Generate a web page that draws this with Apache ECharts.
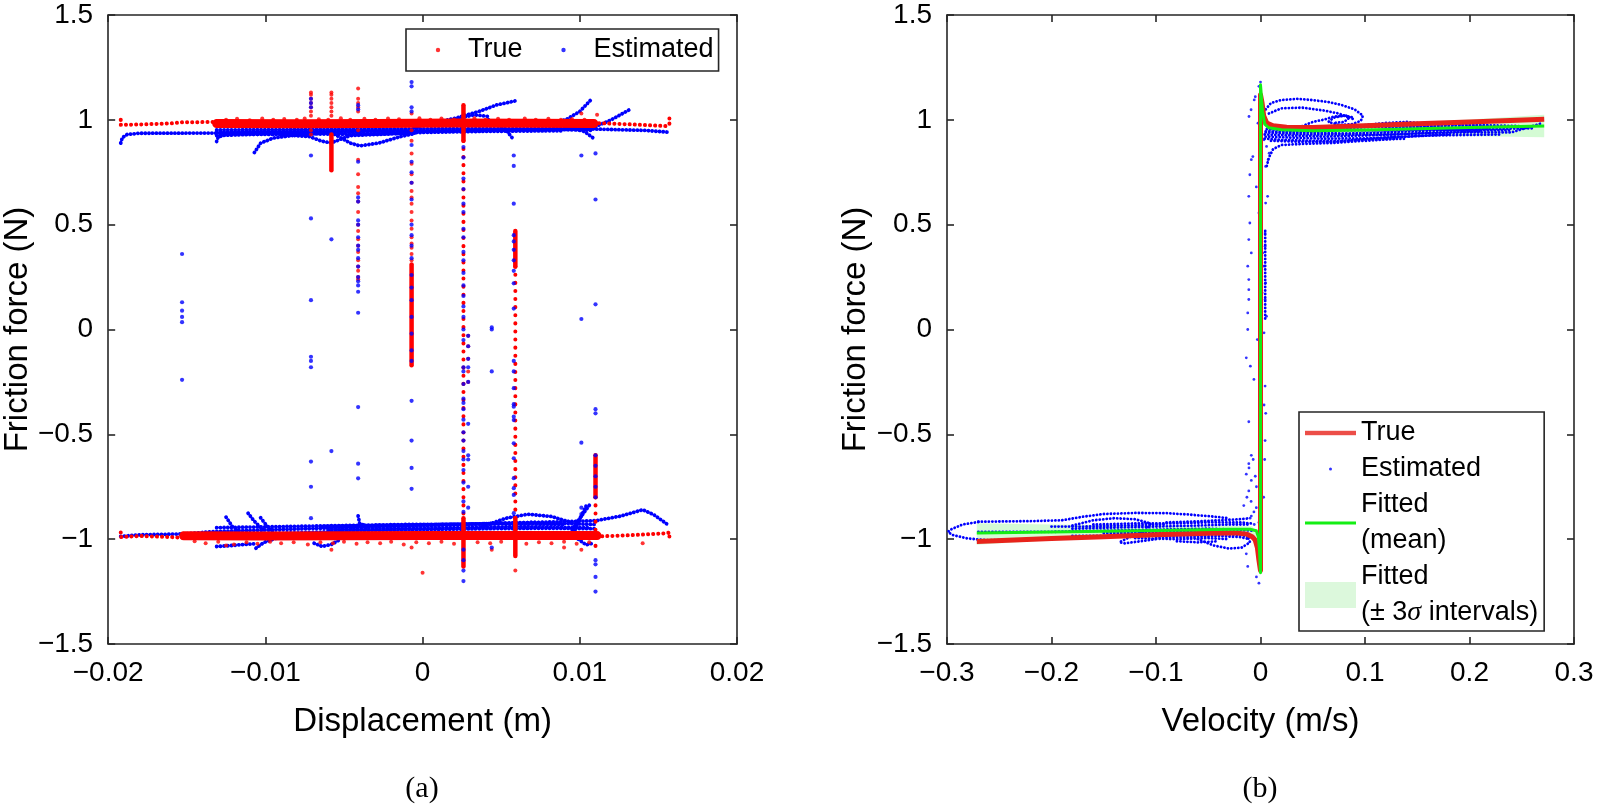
<!DOCTYPE html>
<html>
<head>
<meta charset="utf-8">
<script src="https://cdn.jsdelivr.net/npm/echarts@6/dist/echarts.min.js"></script>
<style>
  html, body { margin: 0; background: #fff; }
  #chart { width: 1600px; height: 808px; }
</style>
</head>
<body>
<div id="chart"></div>
<script>
// axis ranges [min, max, interval]
const forceAxis = [-1.5, 1.5, 0.5]
const dispAxis = [-0.02, 0.02, 0.01]
const velAxis = [-0.3, 0.3, 0.1]

// ---------- (a) friction force vs displacement ----------
// dense "True" bands
const trueBandsA = [
  [[-0.0131, 0.982], [-0.008, 0.981], [-0.003, 0.982], [0.002, 0.985], [0.007, 0.984], [0.0109, 0.982]],
  [[-0.0152, -0.984], [-0.01, -0.985], [-0.005, -0.984], [0, -0.983], [0.005, -0.982], [0.0111, -0.983]]
]
// sparse "True" stretches at both ends
const trueSparseA = [
  [[-0.0192, 1.0], [-0.0192, 0.976], [-0.018, 0.978], [-0.016, 0.983], [-0.0153, 0.988], [-0.0131, 0.99], [-0.0131, 0.975]],
  [[0.0109, 0.985], [0.013, 0.979], [0.0155, 0.97], [0.0157, 0.98], [0.0157, 1.02]],
  [[-0.0192, -0.968], [-0.0192, -0.99], [-0.018, -0.985], [-0.016, -0.99], [-0.0152, -0.993], [-0.0152, -0.968]],
  [[0.0111, -0.987], [0.013, -0.982], [0.0155, -0.972], [0.0157, -0.968], [0.0157, -0.995]]
]
// vertical "True" runs: [x, yFrom, yTo, dotted]
const trueColumnsA = [
  [-0.0058, 0.93, 0.76, 0],
  [-0.0007, 0.31, -0.17, 0],
  [0.0026, 1.07, 0.9, 0],
  [0.0026, 0.9, -0.9, 1],
  [0.0026, -0.9, -1.13, 0],
  [0.0059, 0.47, 0.3, 0],
  [0.0059, 0.3, -0.9, 1],
  [0.0059, -0.9, -1.08, 0],
  [0.011, -0.6, -0.8, 0],
  [0.011, -0.8, -1.05, 1]
]
const trueColumnDotsA = [
  [-0.0071, [1.13, 1.12, 1.1, 1.08, 1.06, 1.04, 1.02, 0.95, 0.93]],
  [-0.0058, [1.13, 1.12, 1.1, 1.08, 1.06, 1.04, 1.02]],
  [-0.0041, [1.15, 1.1, 1.08, 1.06, 1.04, 0.95, 0.81, 0.74, 0.68, 0.65, 0.61, 0.56, 0.5, 0.47, 0.43, 0.4, 0.37, 0.33, 0.3, 0.28, 0.25, 0.24]],
  [-0.0007, [1.03, 0.95, 0.9, 0.84, 0.79, 0.74, 0.7, 0.66, 0.63, 0.6, 0.56, 0.52, 0.48, 0.44, 0.41, 0.39, 0.36, 0.33]],
  [0.0029, [-0.03, -0.08, -0.14, -0.2, -0.25]]
]
const trueOutliersA = [
  [-0.0125, -1.03], [-0.0058, -1.05], [0.0, -1.16], [-0.0007, -1.04], [0.0044, -1.05],
  [0.0059, -1.15], [0.009, -1.04], [0.0101, -1.05], [0.014, -1.02], [0.0101, 1.03], [0.0111, 1.024]
]
const trueTeethA = [
  [-0.0125, 1.0], [-0.0118, 1.005], [-0.011, 0.998], [-0.0102, 1.006], [-0.0095, 1.0], [-0.0088, 1.004],
  [-0.008, 1.0], [-0.0075, 1.006], [-0.0066, 1.003], [-0.006, 1.0], [-0.0052, 1.007], [-0.0046, 1.0],
  [-0.0037, 1.005], [-0.003, 1.0], [-0.0022, 1.006], [-0.0015, 1.003], [-0.0002, 1.008], [0.0005, 1.0],
  [0.0012, 1.006], [0.002, 1.002], [0.0033, 1.007], [0.004, 1.0], [0.0048, 1.005], [0.0055, 1.0],
  [0.0065, 1.006], [0.0072, 1.0], [0.008, 1.005], [0.0088, 1.0], [0.0095, 1.004], [0.0103, 1.0],
  [-0.0145, -1.01], [-0.0138, -1.02], [-0.013, -1.012], [-0.012, -1.025], [-0.0112, -1.015], [-0.0105, -1.022],
  [-0.0097, -1.012], [-0.009, -1.02], [-0.0082, -1.015], [-0.0073, -1.025], [-0.0065, -1.015], [-0.0057, -1.02],
  [-0.005, -1.012], [-0.0042, -1.022], [-0.0035, -1.015], [-0.0027, -1.02], [-0.002, -1.012], [-0.0012, -1.025],
  [-0.0004, -1.015], [0.0004, -1.02], [0.0012, -1.012], [0.002, -1.022], [0.0035, -1.015], [0.0043, -1.02],
  [0.005, -1.012], [0.0066, -1.022], [0.0074, -1.015], [0.0082, -1.02], [0.009, -1.012], [0.0098, -1.022], [0.0106, -1.015]
]
// "Estimated" trajectories
const estTracksA = [
  [[-0.0192, 0.889], [-0.0191, 0.915], [-0.0188, 0.93], [-0.018, 0.936], [-0.0131, 0.937], [-0.0064, 0.94], [-0.0005, 0.943], [0.0062, 0.952], [0.011, 0.956], [0.014, 0.95], [0.0157, 0.941]],
  [[-0.0131, 0.897], [-0.013, 0.918], [-0.0125, 0.93], [-0.0116, 0.932], [-0.009, 0.93], [-0.0072, 0.92], [-0.0064, 0.898], [-0.0058, 0.89], [-0.0053, 0.905], [-0.0046, 0.925], [-0.0005, 0.937]],
  [[-0.0107, 0.844], [-0.0103, 0.889], [-0.0095, 0.913], [-0.008, 0.928], [-0.0058, 0.94]],
  [[-0.0058, 0.94], [-0.0046, 0.889], [-0.004, 0.876], [-0.0028, 0.889], [-0.0014, 0.92], [-0.0005, 0.935]],
  [[-0.0005, 0.965], [0.0021, 1.008], [0.0036, 1.04], [0.0047, 1.071], [0.006, 1.092]],
  [[0.0018, 1.0], [0.0033, 1.024], [0.0042, 1.016]],
  [[0.0042, 1.0], [0.0053, 0.952], [0.0058, 0.905]],
  [[0.0076, 0.976], [0.0091, 1.0], [0.01, 1.04], [0.0107, 1.095]],
  [[0.0091, 0.968], [0.0103, 0.944], [0.011, 0.905]],
  [[0.011, 0.968], [0.012, 1.0], [0.0132, 1.05]],
  [[-0.0131, 0.952], [-0.008, 0.954], [-0.003, 0.956], [0.002, 0.958], [0.007, 0.958], [0.011, 0.96]],
  [[-0.0131, 0.925], [-0.009, 0.935], [-0.004, 0.93], [0, 0.94], [0.004, 0.945], [0.009, 0.948]],
  [[-0.0131, 0.94], [-0.01, 0.945], [-0.006, 0.948], [-0.002, 0.95], [0.003, 0.95], [0.008, 0.955], [0.0109, 0.95]],
  [[-0.0192, -0.987], [-0.018, -0.979], [-0.0152, -0.975], [-0.0131, -0.963], [-0.0064, -0.948], [-0.0005, -0.937], [0.0053, -0.924], [0.011, -0.912], [0.0126, -0.89], [0.014, -0.86], [0.0147, -0.883], [0.0154, -0.92], [0.0157, -0.937]],
  [[-0.0131, -1.035], [-0.0121, -1.03], [-0.0107, -1.022]],
  [[-0.0125, -0.895], [-0.0121, -0.94], [-0.0116, -0.963]],
  [[-0.0111, -0.876], [-0.0107, -0.915], [-0.0101, -0.958]],
  [[-0.0103, -0.898], [-0.0099, -0.937], [-0.0095, -0.971]],
  [[-0.0106, -1.043], [-0.0101, -1.016], [-0.0093, -0.995]],
  [[-0.0069, -1.019], [-0.0064, -1.035], [-0.0058, -1.025], [-0.0052, -1.0]],
  [[-0.0041, -0.889], [-0.004, -0.925], [-0.0035, -0.94]],
  [[0.0038, -0.94], [0.0053, -0.9], [0.0067, -0.881], [0.0082, -0.892], [0.0096, -0.924]],
  [[0.0094, -0.97], [0.01, -0.9], [0.0107, -0.829]],
  [[0.0097, -0.955], [0.0101, -0.89], [0.0104, -0.842]],
  [[0.0099, -1.0], [0.0104, -1.027], [0.0108, -1.02]],
  [[-0.0131, -0.975], [-0.008, -0.97], [-0.004, -0.96], [0, -0.955], [0.004, -0.95], [0.008, -0.948], [0.011, -0.95]],
  [[-0.0064, -0.94], [-0.003, -0.935], [0.001, -0.93], [0.005, -0.925], [0.009, -0.93]],
  [[-0.0131, -0.945], [-0.009, -0.94], [-0.005, -0.935], [-0.001, -0.93], [0.003, -0.928], [0.007, -0.92], [0.011, -0.93]],
  [[-0.006, -0.955], [-0.002, -0.95], [0.002, -0.945], [0.006, -0.94], [0.0105, -0.945]]
]
const estColumnDotsA = [
  [-0.0153, [0.36, 0.13, 0.09, 0.06, 0.035, -0.24]],
  [-0.0071, [1.1, 1.08, 1.06, 0.83, 0.53, 0.14, -0.13, -0.15, -0.18, -0.63, -0.75, -0.9]],
  [-0.0058, [0.43, -0.58]],
  [-0.0041, [1.07, 1.05, 0.8, 0.63, 0.61, 0.52, 0.5, 0.44, 0.4, 0.38, 0.34, 0.3, 0.25, 0.23, 0.21, 0.18, 0.08, -0.37, -0.64, -0.71]],
  [-0.0007, [1.18, 1.16, 1.06, 1.04, 0.88, 0.8, 0.75, 0.7, 0.62, 0.5, 0.45, 0.4, 0.34, 0.26, 0.2, 0.14, 0.06, -0.02, -0.1, -0.15, -0.34, -0.53, -0.66, -0.76]],
  [0.0026, [0.87, 0.82, 0.72, 0.67, 0.6, 0.56, 0.48, 0.44, 0.37, 0.33, 0.27, 0.21, 0.16, 0.11, 0.06, 0.0, -0.05, -0.18, -0.2, -0.26, -0.33, -0.35, -0.38, -0.43, -0.49, -0.53, -0.58, -0.62, -0.67, -0.73, -0.82, -0.87, -1.05, -1.1, -1.15, -1.2]],
  [0.0029, [-0.03, -0.08, -0.14, -0.18, -0.25, -0.45, -0.6, -0.62, -0.75, -0.85]],
  [0.0044, [0.01, 0.0, -0.2, -1.04]],
  [0.0058, [0.83, 0.78, 0.6, 0.45, 0.42, 0.38, 0.33, 0.28, 0.22, 0.1, -0.15, -0.2, -0.28, -0.356, -0.368, -0.416, -0.432, -0.543, -0.614, -0.709, -0.757, -0.789, -0.876]],
  [0.0101, [0.83, 0.05, -0.54, -0.85, -0.88]],
  [0.011, [0.84, 0.62, 0.12, -0.38, -0.4, -0.6, -0.65, -0.7, -0.75, -0.8, -1.1, -1.12, -1.18, -1.25]]
]

// ---------- (b) friction force vs velocity ----------
const trueVelB = [
  [-0.2715, -1.011], [-0.2, -0.997], [-0.15, -0.988], [-0.1, -0.979], [-0.05, -0.972], [-0.025, -0.97],
  [-0.013, -0.976], [-0.008, -0.988], [-0.005, -1.005], [-0.003, -1.04], [-0.0015, -1.1], [0, -1.15],
  [0, 1.12], [0.0015, 1.08], [0.003, 1.02], [0.006, 0.985], [0.012, 0.972], [0.025, 0.965], [0.05, 0.964],
  [0.1, 0.972], [0.15, 0.981], [0.2, 0.99], [0.2715, 1.003]
]
const fitMeanB = [
  [-0.2715, -0.971], [-0.2, -0.966], [-0.1, -0.959], [-0.03, -0.953], [-0.01, -0.953], [-0.004, -0.96],
  [-0.002, -0.99], [-0.001, -1.05], [0, -1.16], [0, 1.167], [0.001, 1.1], [0.002, 1.04], [0.004, 0.98],
  [0.008, 0.962], [0.02, 0.953], [0.05, 0.948], [0.1, 0.952], [0.15, 0.957], [0.2, 0.963], [0.2715, 0.971]
]
const bandPosHi = [[0.001, 1.19], [0.003, 1.06], [0.006, 0.99], [0.02, 0.975], [0.06, 0.975], [0.1, 0.982], [0.15, 0.99], [0.2, 1.002], [0.2715, 1.024]]
const bandPosLo = [[0.001, 1.14], [0.003, 1.03], [0.006, 0.955], [0.02, 0.93], [0.06, 0.925], [0.1, 0.925], [0.15, 0.925], [0.2, 0.922], [0.2715, 0.917]]
const bandNegHi = [[-0.2715, -0.924], [-0.2, -0.93], [-0.1, -0.935], [-0.03, -0.935], [-0.008, -0.94], [-0.003, -0.97], [-0.001, -1.1]]
const bandNegLo = [[-0.2715, -1.027], [-0.2, -1.005], [-0.1, -0.985], [-0.03, -0.975], [-0.008, -0.98], [-0.003, -1.02], [-0.001, -1.19]]
const estTracksB = [
  [[0.004, 0.91], [0.02, 0.905], [0.05, 0.9], [0.08, 0.9], [0.12, 0.915], [0.16, 0.925], [0.2, 0.928], [0.23, 0.93]],
  [[0.004, 0.93], [0.03, 0.925], [0.06, 0.92], [0.1, 0.925], [0.15, 0.935], [0.2, 0.94], [0.24, 0.94], [0.27, 0.985]],
  [[0.005, 0.945], [0.04, 0.94], [0.08, 0.935], [0.12, 0.94], [0.17, 0.95], [0.21, 0.955], [0.26, 0.96]],
  [[0.006, 0.955], [0.03, 0.95], [0.06, 0.955], [0.1, 0.965], [0.14, 0.97], [0.18, 0.965], [0.22, 0.96]],
  [[0.005, 0.92], [0.03, 0.915], [0.06, 0.91], [0.1, 0.912], [0.14, 0.92], [0.18, 0.93]],
  [[0.005, 0.94], [0.025, 0.935], [0.05, 0.93], [0.09, 0.93], [0.13, 0.93], [0.17, 0.94], [0.21, 0.945]],
  [[0.01, 0.96], [0.04, 0.958], [0.08, 0.95], [0.12, 0.95], [0.16, 0.955], [0.2, 0.95], [0.24, 0.95]],
  [[0.01, 0.9], [0.04, 0.895], [0.07, 0.895], [0.1, 0.905], [0.14, 0.91]],
  [[0.12, 0.96], [0.15, 0.965], [0.18, 0.975], [0.21, 0.975], [0.25, 0.97]],
  [[0.006, 0.78], [0.008, 0.82], [0.012, 0.86], [0.02, 0.88], [0.04, 0.885], [0.07, 0.89], [0.1, 0.9], [0.13, 0.91]],
  [[0.005, 1.05], [0.01, 1.08], [0.02, 1.095], [0.035, 1.1], [0.05, 1.094], [0.065, 1.085], [0.078, 1.07], [0.09, 1.05], [0.098, 1.02], [0.096, 0.995], [0.088, 0.98], [0.075, 0.975], [0.065, 0.99], [0.07, 1.01], [0.08, 1.02], [0.09, 1.01]],
  [[0.008, 1.03], [0.02, 1.055], [0.04, 1.058], [0.06, 1.045], [0.075, 1.03], [0.085, 1.01], [0.08, 0.99], [0.07, 0.985]],
  [[0.04, 0.97], [0.05, 0.99], [0.06, 1.0], [0.07, 1.015], [0.082, 1.02], [0.09, 1.0]],
  [[0.1, 0.975], [0.12, 0.985], [0.14, 0.99], [0.16, 0.98], [0.19, 0.975], [0.22, 0.97]],
  [[0.0045, 0.47], [0.0045, 0.05]],
  [[-0.27, -0.918], [-0.285, -0.93], [-0.297, -0.955], [-0.299, -0.965], [-0.295, -0.98], [-0.28, -0.997], [-0.26, -1.005], [-0.24, -1.004], [-0.2, -0.995]],
  [[-0.27, -0.917], [-0.22, -0.914], [-0.19, -0.91], [-0.17, -0.893], [-0.15, -0.88], [-0.12, -0.875], [-0.09, -0.876], [-0.07, -0.882], [-0.05, -0.89], [-0.03, -0.9]],
  [[-0.18, -0.935], [-0.16, -0.91], [-0.14, -0.9], [-0.12, -0.905], [-0.105, -0.925], [-0.11, -0.96], [-0.125, -0.99], [-0.135, -1.015], [-0.13, -1.02], [-0.115, -1.01], [-0.1, -1.0]],
  [[-0.18, -0.95], [-0.14, -0.945], [-0.1, -0.94], [-0.06, -0.935], [-0.03, -0.93], [-0.01, -0.93]],
  [[-0.27, -0.965], [-0.2, -0.965], [-0.15, -0.96], [-0.1, -0.955], [-0.05, -0.95], [-0.02, -0.955], [-0.006, -0.96]],
  [[-0.18, -0.985], [-0.13, -0.985], [-0.09, -0.98], [-0.05, -0.975], [-0.02, -0.98], [-0.008, -0.99]],
  [[-0.12, -0.995], [-0.08, -1.0], [-0.05, -0.995], [-0.03, -1.0]],
  [[-0.16, -0.93], [-0.12, -0.925], [-0.08, -0.925], [-0.05, -0.92], [-0.02, -0.92], [-0.008, -0.925]],
  [[-0.15, -0.97], [-0.11, -0.97], [-0.07, -0.965], [-0.04, -0.965], [-0.015, -0.97]],
  [[-0.1, -0.99], [-0.07, -0.99], [-0.04, -0.985], [-0.02, -0.99], [-0.01, -1.0]],
  [[-0.2, -0.94], [-0.17, -0.94], [-0.13, -0.935], [-0.09, -0.93]],
  [[-0.08, -1.01], [-0.06, -1.015], [-0.04, -1.01]],
  [[-0.06, -1.0], [-0.045, -1.03], [-0.03, -1.045], [-0.018, -1.04], [-0.01, -1.015], [-0.012, -0.99]],
  [[-0.09, -0.92], [-0.06, -0.915], [-0.04, -0.91], [-0.02, -0.905], [-0.01, -0.9]]
]
const estDotsB = [
  [0, 1.18], [-0.0015, 1.16], [-0.005, 1.11], [-0.006, 1.095], [-0.009, 1.048], [-0.011, 1.016], [-0.0024, 0.984],
  [0.0034, 0.905], [0.0058, 0.873], [0.0083, 0.841], [0.0073, 0.81], [0.0049, 0.778], [-0.0073, 0.825], [-0.0088, 0.81],
  [-0.0102, 0.738], [-0.0112, 0.635], [-0.0102, 0.508], [-0.0112, 0.429], [-0.0088, 0.365], [-0.0122, 0.302],
  [-0.0112, 0.238], [-0.0112, 0.19], [-0.0112, 0.143], [-0.0122, 0.079], [-0.0122, 0.0], [-0.0136, -0.135],
  [-0.0097, -0.175], [-0.0063, -0.238], [0.0044, 0.46], [0.0044, 0.397], [0.0034, 0.302], [0.0049, 0.222],
  [0.0044, 0.143], [0.0058, 0.063], [0.0068, 0.635], [0.0049, 0.603], [0.0034, -0.016], [0.001, -0.143],
  [0.0044, -0.27], [-0.004, 0.68], [-0.0015, 0.556], [0.002, 0.365], [0.0015, 0.175], [-0.003, -0.048],
  [0.001, -0.273], [0.0034, -0.36], [0, -0.43], [-0.0112, -0.44], [0.0044, -0.53], [-0.0088, -0.6],
  [-0.0112, -0.64], [-0.0136, -0.69], [-0.0088, -0.72], [-0.0039, -0.75], [-0.0112, -0.77], [-0.016, -0.84],
  [-0.0063, -0.87], [-0.0088, -0.89], [-0.0015, -0.92], [-0.0136, -1.07], [-0.0122, -1.13], [-0.0039, -1.18],
  [-0.0015, -1.21], [-0.007, -0.62], [-0.011, -0.66], [-0.005, -0.7], [-0.013, -0.8], [-0.009, -0.82],
  [-0.004, -0.85], [-0.01, -0.9], [-0.006, -0.93], [0.004, -0.62], [0.005, -0.4], [0.003, -0.8]
]

const legendNamesB = ['True', 'Estimated', 'Fitted\n(mean)', 'Fitted\n(± 3σ intervals)']

const RED = '#ff0000'
const BLUE = '#0000ff'
const TRUE_LINE = '#e8231b'
const GREEN = '#14ee14'
const BAND = 'rgba(0, 230, 0, 0.17)'
const INK = '#262626'
const SANS = '"Liberation Sans", Arial, Helvetica, sans-serif'
const SERIF = '"Liberation Serif", "Times New Roman", serif'

// grid 0 uses x/y axes 0 (bottom/left) and 1 (top/right); grid 1 uses 2 and 3
const AX = [0, 2]

function svgIcon(w, h, body) {
  return 'image://data:image/svg+xml;charset=utf-8,' + encodeURIComponent(
    '<svg xmlns="http://www.w3.org/2000/svg" width="' + w + '" height="' + h + '" viewBox="0 0 ' + w + ' ' + h + '">' + body + '</svg>')
}

function lineSeries(tracks, g, color, width, gap, z) {
  return tracks.map(pts => ({
    type: 'line', xAxisIndex: AX[g], yAxisIndex: AX[g], data: pts,
    symbol: 'none', silent: true, z: z || 2, animation: false,
    itemStyle: { color },
    lineStyle: { color, width, type: gap ? [0.1, gap] : 'solid', cap: 'round', join: 'round' }
  }))
}

function flattenColumns(cols) {
  const out = []
  cols.forEach(([x, ys]) => ys.forEach(y => out.push([x, y])))
  return out
}

const columnLinesA = trueColumnsA.map(c => ({ pts: [[c[0], c[1]], [c[0], c[2]]], dotted: c[3] }))

// MATLAB-style labels with a real minus sign
const fmt = d => v => {
  const r = Math.round(v * d) / d
  return r < 0 ? '\u2212' + String(-r) : String(r)
}

function axisPair(g, range, f) {
  const common = {
    type: 'value', gridIndex: g, min: range[0], max: range[1], interval: range[2],
    splitLine: { show: false },
    axisLine: { show: true, onZero: false, lineStyle: { color: INK, width: 1.6 } },
    axisTick: { show: true, inside: true, length: 7, lineStyle: { color: INK, width: 1.6 } }
  }
  return [
    Object.assign({}, common, {
      axisLabel: { show: true, fontFamily: SANS, fontSize: 28, color: '#000', margin: 15, formatter: f }
    }),
    Object.assign({}, common, { axisLabel: { show: false } })
  ]
}

const [xa0, xa1] = axisPair(0, dispAxis, fmt(1000))
const [xb0, xb1] = axisPair(1, velAxis, fmt(100))
const [ya0, ya1] = axisPair(0, forceAxis, fmt(100))
const [yb0, yb1] = axisPair(1, forceAxis, fmt(100))

const nameStyle = { fontFamily: SANS, fontSize: 33, color: '#000' }

const chart = echarts.init(document.getElementById('chart'))

const series = [
  // legend carriers for (a)
  {
    type: 'scatter', name: 'True', xAxisIndex: 0, yAxisIndex: 0, symbolSize: 4, z: 4,
    itemStyle: { color: RED },
    data: flattenColumns(trueColumnDotsA).concat(trueOutliersA, trueTeethA)
  },
  {
    type: 'scatter', name: 'Estimated', xAxisIndex: 0, yAxisIndex: 0, symbolSize: 4.2, z: 5,
    itemStyle: { color: BLUE },
    data: flattenColumns(estColumnDotsA)
  }
]
  .concat(lineSeries(estTracksA, 0, BLUE, 3.8, 3.6, 2))
  .concat(lineSeries(trueBandsA, 0, RED, 9, 0, 3))
  .concat(lineSeries(trueSparseA, 0, RED, 4, 5, 3))
  .concat(columnLinesA.map(c => lineSeries([c.pts], 0, RED, c.dotted ? 4 : 4.5, c.dotted ? 8 : 0, 3)[0]))
  .concat([
    {
      type: 'custom', name: legendNamesB[3], xAxisIndex: 2, yAxisIndex: 2, z: 1, silent: true,
      itemStyle: { color: BAND },
      data: [[0, 0], [0, 0]],
      renderItem: (params, api) => {
        const pair = params.dataIndex === 0 ? [bandPosHi, bandPosLo] : [bandNegHi, bandNegLo]
        const pts = pair[0].concat(pair[1].slice().reverse()).map(p => api.coord(p))
        return { type: 'polygon', shape: { points: pts }, style: { fill: BAND } }
      }
    },
    {
      type: 'scatter', name: legendNamesB[1], xAxisIndex: 2, yAxisIndex: 2, symbolSize: 2.8, z: 2,
      itemStyle: { color: BLUE }, data: estDotsB
    }
  ])
  .concat(lineSeries(estTracksB, 1, BLUE, 2.8, 3.4, 2))
  .concat([
    {
      type: 'line', name: legendNamesB[0], xAxisIndex: 2, yAxisIndex: 2, data: trueVelB,
      symbol: 'none', z: 3, itemStyle: { color: TRUE_LINE },
      lineStyle: { color: TRUE_LINE, width: 5, join: 'round' }
    },
    {
      type: 'line', name: legendNamesB[2], xAxisIndex: 2, yAxisIndex: 2, data: fitMeanB,
      symbol: 'none', z: 4, itemStyle: { color: GREEN },
      lineStyle: { color: GREEN, width: 3, join: 'round' }
    }
  ])

chart.setOption({
  animation: false,
  backgroundColor: '#fff',
  grid: [
    { left: 108, top: 15, width: 629, height: 629 },
    { left: 947, top: 15, width: 627, height: 629 }
  ],
  xAxis: [
    Object.assign(xa0, { position: 'bottom', name: 'Displacement (m)', nameLocation: 'middle', nameGap: 61, nameTextStyle: nameStyle }),
    Object.assign(xa1, { position: 'top' }),
    Object.assign(xb0, { position: 'bottom', name: 'Velocity (m/s)', nameLocation: 'middle', nameGap: 61, nameTextStyle: nameStyle }),
    Object.assign(xb1, { position: 'top' })
  ],
  yAxis: [
    Object.assign(ya0, { position: 'left', name: 'Friction force (N)', nameLocation: 'middle', nameGap: 71, nameTextStyle: nameStyle }),
    Object.assign(ya1, { position: 'right' }),
    Object.assign(yb0, { position: 'left', name: 'Friction force (N)', nameLocation: 'middle', nameGap: 70, nameTextStyle: nameStyle }),
    Object.assign(yb1, { position: 'right' })
  ],
  legend: [
    {
      left: 406, top: 29, orient: 'horizontal',
      data: [
        { name: 'True', icon: svgIcon(50, 30, '<circle cx="25" cy="15" r="2.2" fill="#ff0000"/>') },
        { name: 'Estimated', icon: svgIcon(50, 30, '<circle cx="25" cy="15" r="2.2" fill="#0000ff"/>') }
      ],
      itemWidth: 50, itemHeight: 30, itemGap: 16, padding: [6, 5, 6, 7],
      backgroundColor: '#fff', borderColor: INK, borderWidth: 1.6, borderRadius: 0,
      selectedMode: false,
      textStyle: { fontFamily: SANS, fontSize: 27, color: '#000', lineHeight: 30 }
    },
    {
      left: 1299, top: 412, orient: 'vertical',
      data: [
        { name: legendNamesB[0], icon: svgIcon(51, 36, '<rect x="0" y="15.8" width="51" height="4.4" fill="' + TRUE_LINE + '"/>') },
        { name: legendNamesB[1], icon: svgIcon(51, 36, '<circle cx="25.5" cy="18" r="1.5" fill="#0000ff"/>') },
        { name: legendNamesB[2], icon: svgIcon(51, 36, '<rect x="0" y="16.5" width="51" height="3" fill="' + GREEN + '"/>') },
        { name: legendNamesB[3], icon: svgIcon(51, 36, '<rect x="0" y="5" width="51" height="26" fill="#dcf8dc"/>') }
      ],
      itemWidth: 51, itemHeight: 36, itemGap: 0, padding: [3, 6, 0, 6],
      backgroundColor: '#fff', borderColor: INK, borderWidth: 1.6, borderRadius: 0,
      selectedMode: false,
      formatter: n => n.replace('σ', '{i|σ}'),
      textStyle: {
        fontFamily: SANS, fontSize: 27, color: '#000', lineHeight: 36,
        rich: { i: { fontFamily: SERIF, fontStyle: 'italic', fontSize: 28, lineHeight: 36, color: '#000' } }
      }
    }
  ],
  graphic: [
    { type: 'text', x: 422, y: 789, style: { text: '(a)', font: '30px ' + SERIF, fill: '#000', textAlign: 'center', textVerticalAlign: 'middle' } },
    { type: 'text', x: 1260, y: 789, style: { text: '(b)', font: '30px ' + SERIF, fill: '#000', textAlign: 'center', textVerticalAlign: 'middle' } }
  ],
  series
})
</script>
</body>
</html>
